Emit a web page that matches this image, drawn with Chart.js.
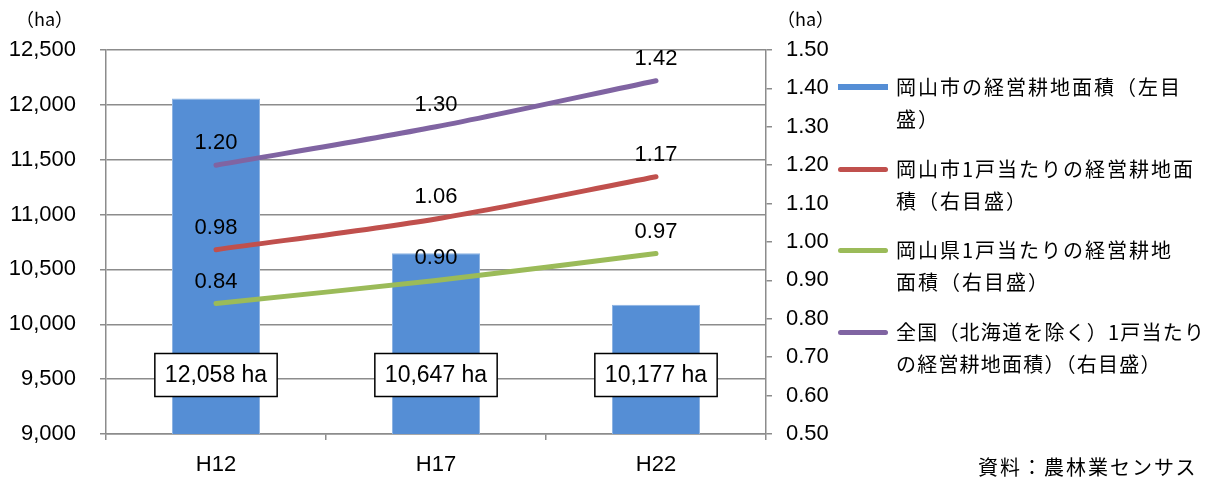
<!DOCTYPE html>
<html lang="ja">
<head>
<meta charset="utf-8">
<script src="https://cdn.jsdelivr.net/npm/chart.js@4"></script>
<style>
  html, body { margin: 0; padding: 0; background: #fff; }
  #wrap { position: relative; width: 1219px; height: 477px; font-family: "Noto Sans CJK JP", sans-serif; color: #000; }
  #chart { position: absolute; left: 0; top: 0; }
  .unit { position: absolute; top: 6px; font-size: 18px; line-height: 24px; }
  .item { position: absolute; left: 838px; }
  .key { position: absolute; left: 0; width: 50px; height: 5px; border-radius: 3px; }
  .txt { position: absolute; left: 58px; width: 340px; font-size: 20px; line-height: 32px; letter-spacing: 2px; white-space: nowrap; }
  #source { position: absolute; left: 978px; top: 452px; font-size: 20px; letter-spacing: 2px; line-height: 30px; }
</style>
</head>
<body>
<div id="wrap">
  <canvas id="chart" width="1219" height="477"></canvas>
  <div class="unit" style="left:16px">（ha）</div>
  <div class="unit" style="left:777px">（ha）</div>
  <div id="legend"></div>
  <div id="source">資料：農林業センサス</div>
</div>
<script>
/* global Chart */

const labels = ['H12', 'H17', 'H22'];
const cityArea = [12058, 10647, 10177];
const cityPerFarm = [0.98, 1.06, 1.17];
const prefPerFarm = [0.84, 0.90, 0.97];
const nationPerFarm = [1.20, 1.30, 1.42];

const names = [
  ['岡山市の経営耕地面積（左目', '盛）'],
  ['岡山市1戸当たりの経営耕地面', '積（右目盛）'],
  ['岡山県1戸当たりの経営耕地', '面積（右目盛）'],
  ['全国（北海道を除く）1戸当たり', 'の経営耕地面積）（右目盛）']
];

const BLUE = '#558ed5';
const RED = '#c0504d';
const GREEN = '#9bbb59';
const PURPLE = '#8064a2';
const GRID = '#8c8c8c';
const NUM_FONT = '"Liberation Sans", Arial, sans-serif';

const fmt = n => String(n).replace(/\B(?=(\d{3})+(?!\d))/g, ',');

const valueLabels = {
  id: 'valueLabels',
  afterDatasetsDraw(chart) {
    const ctx = chart.ctx;
    const bottom = chart.chartArea.bottom;
    ctx.save();
    ctx.font = `22px ${NUM_FONT}`;
    ctx.textAlign = 'center';
    ctx.textBaseline = 'middle';
    ctx.fillStyle = '#000';
    // line values above points
    chart.data.datasets.forEach((ds, i) => {
      if (ds.type !== 'line') return;
      chart.getDatasetMeta(i).data.forEach((pt, j) => {
        ctx.fillText(ds.data[j].toFixed(2), pt.x, pt.y - 22);
      });
    });
    // boxed area values near bar bottoms
    ctx.font = `23px ${NUM_FONT}`;
    chart.getDatasetMeta(0).data.forEach((bar, j) => {
      const text = fmt(cityArea[j]) + ' ha';
      const w = ctx.measureText(text).width + 20;
      const h = 43;
      const cy = bottom - 59;
      ctx.fillStyle = '#fff';
      ctx.fillRect(bar.x - w / 2, cy - h / 2, w, h);
      ctx.lineWidth = 1.5;
      ctx.strokeStyle = '#000';
      ctx.strokeRect(bar.x - w / 2, cy - h / 2, w, h);
      ctx.fillStyle = '#000';
      ctx.fillText(text, bar.x, cy + 1);
    });
    ctx.restore();
  }
};

const lineSet = (label, data, color) => ({
  type: 'line',
  label,
  data,
  yAxisID: 'y1',
  borderColor: color,
  backgroundColor: color,
  borderWidth: 5,
  borderCapStyle: 'round',
  tension: 0.3,
  pointRadius: 0,
  order: 0
});

new Chart(document.getElementById('chart').getContext('2d'), {
  data: {
    labels,
    datasets: [{
      type: 'bar',
      label: names[0].join(''),
      data: cityArea,
      backgroundColor: BLUE,
      borderColor: '#8db3e2',
      borderWidth: 1,
      barPercentage: 0.4,
      categoryPercentage: 1,
      yAxisID: 'y',
      order: 1
    },
    lineSet(names[1].join(''), cityPerFarm, RED),
    lineSet(names[2].join(''), prefPerFarm, GREEN),
    lineSet(names[3].join(''), nationPerFarm, PURPLE)]
  },
  options: {
    responsive: false,
    animation: false,
    layout: { padding: { top: 50, left: 0, right: 0, bottom: 0 } },
    plugins: { legend: { display: false }, tooltip: { enabled: false } },
    scales: {
      x: {
        afterFit: s => { s.height = 43; },
        grid: { offset: true, drawOnChartArea: false, tickLength: 6, color: GRID, lineWidth: 1.5 },
        border: { color: GRID, width: 1.5 },
        ticks: { color: '#000', font: { family: NUM_FONT, size: 22 }, padding: 12 }
      },
      y: {
        position: 'left',
        min: 9000,
        max: 12500,
        afterFit: s => { s.width = 106; },
        grid: { color: GRID, lineWidth: 1.5, tickLength: 6 },
        border: { color: GRID, width: 1.5 },
        ticks: {
          stepSize: 500,
          padding: 24,
          color: '#000',
          font: { family: NUM_FONT, size: 22 },
          callback: v => fmt(v)
        }
      },
      y1: {
        position: 'right',
        min: 0.5,
        max: 1.5,
        afterFit: s => { s.width = 1219 - 766; },
        grid: { drawOnChartArea: false, color: GRID, lineWidth: 1.5, tickLength: 6 },
        border: { color: GRID, width: 1.5 },
        ticks: {
          stepSize: 0.1,
          padding: 14,
          color: '#000',
          font: { family: NUM_FONT, size: 22 },
          callback: v => v.toFixed(2)
        }
      }
    }
  },
  plugins: [valueLabels]
});

// legend with the same wrapped lines as the reference
const keyColors = [BLUE, RED, GREEN, PURPLE];
const keyTops = [87, 169, 250, 332];
const legend = document.getElementById('legend');
names.forEach((lines, i) => {
  const item = document.createElement('div');
  item.className = 'item';
  item.style.top = keyTops[i] + 'px';
  const key = document.createElement('div');
  key.className = 'key';
  key.style.background = keyColors[i];
  key.style.top = (i === 0 ? -3 : -2.5) + 'px';
  if (i === 0) { key.style.height = '6px'; key.style.borderRadius = '0'; }
  const txt = document.createElement('div');
  txt.className = 'txt';
  txt.style.top = '-16px';
  if (i === 3) txt.style.letterSpacing = '1.2px';
  txt.innerHTML = lines.join('<br>');
  item.appendChild(key);
  item.appendChild(txt);
  legend.appendChild(item);
});
</script>
</body>
</html>
